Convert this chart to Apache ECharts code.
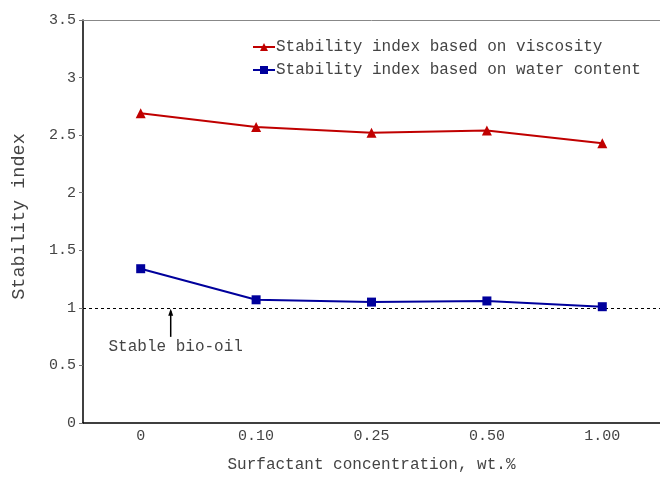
<!DOCTYPE html>
<html>
<head>
<meta charset="utf-8">
<script src="https://cdn.jsdelivr.net/npm/echarts@6/dist/echarts.min.js"></script>
<style>html,body{margin:0;padding:0;background:#fff;}#c{width:660px;height:478px;}</style>
</head>
<body>
<div id="c"></div>
<script>
var categories = ['0', '0.10', '0.25', '0.50', '1.00'];
var viscosityIndex = [2.69, 2.57, 2.52, 2.54, 2.43];
var waterIndex = [1.34, 1.07, 1.05, 1.06, 1.01];
var seriesNames = ['Stability index based on viscosity', 'Stability index based on water content'];
var stableLevel = 1;
var annotationText = 'Stable bio-oil';

var FONT = '"Liberation Mono", "Courier New", monospace';
var TXT = '#444';
var chart = echarts.init(document.getElementById('c'), null, {renderer: 'canvas', width: 660, height: 478});
var option = {
  animation: false,
  backgroundColor: '#fff',
  textStyle: {fontFamily: FONT},
  grid: {left: 83, width: 580, top: 20, height: 408},
  legend: {
    orient: 'vertical', left: 247, top: 34, itemGap: 7,
    itemWidth: 22, itemHeight: 10,
    textStyle: {fontFamily: FONT, fontSize: 16, color: TXT, padding: [0,0,0,-4]},
    data: seriesNames
  },
  xAxis: [{
    type: 'category', data: categories, position: 'bottom',
    boundaryGap: true,
    axisLine: {lineStyle: {color: '#000', width: 1.5}},
    axisTick: {alignWithLabel: true, length: 4, lineStyle: {color: '#555'}},
    axisLabel: {fontFamily: FONT, fontSize: 15, color: TXT, margin: 6},
    name: 'Surfactant concentration, wt.%', nameLocation: 'middle', nameGap: 34,
    nameTextStyle: {fontFamily: FONT, fontSize: 16, color: TXT},
    splitLine: {show: false}
  }, {
    type: 'category', data: categories, position: 'bottom',
    boundaryGap: true,
    axisLine: {show: false},
    axisTick: {alignWithLabel: true, inside: true, length: 3, lineStyle: {color: '#555'}},
    axisLabel: {show: false}, splitLine: {show: false}
  }, {
    type: 'category', data: categories, position: 'top',
    axisLine: {lineStyle: {color: '#888', width: 1}},
    axisTick: {show: false}, axisLabel: {show: false}, splitLine: {show: false}
  }],
  yAxis: {
    type: 'value', min: 0, max: 3.5, interval: 0.5,
    axisLine: {show: true, lineStyle: {color: '#000', width: 1.5}},
    axisTick: {show: true, length: 4, lineStyle: {color: '#777'}},
    axisLabel: {fontFamily: FONT, fontSize: 15, color: TXT, margin: 7},
    splitLine: {show: false},
    name: 'Stability index', nameLocation: 'middle', nameGap: 54,
    nameTextStyle: {fontFamily: FONT, fontSize: 18.5, color: TXT, padding: [0, 0, 0, 10]}
  },
  series: [{
    name: seriesNames[0], type: 'line', data: viscosityIndex,
    symbol: 'triangle', symbolSize: 10,
    itemStyle: {color: '#C00000'},
    lineStyle: {color: '#C00000', width: 2}
  }, {
    name: seriesNames[1], type: 'line', data: waterIndex,
    symbol: 'rect', symbolSize: 9,
    itemStyle: {color: '#00009C'},
    lineStyle: {color: '#00009C', width: 2},
    z: 3,
    markLine: {
      silent: true, symbol: 'none', z: 1,
      label: {show: false},
      lineStyle: {color: '#000', type: [3, 3], width: 1},
      data: [{yAxis: stableLevel}]
    }
  }]
};
chart.setOption(option);

var p0 = chart.convertToPixel({xAxisIndex: 0, yAxisIndex: 0}, [0, stableLevel]);
var p1 = chart.convertToPixel({xAxisIndex: 0, yAxisIndex: 0}, [1, stableLevel]);
var ax = p0[0] + (p1[0] - p0[0]) * 0.26;
var ay = p0[1];
chart.setOption({
  graphic: [{
    type: 'line', z: 10,
    shape: {x1: ax, y1: ay + 29, x2: ax, y2: ay + 3},
    style: {stroke: '#000', lineWidth: 1.5}
  }, {
    type: 'polygon', z: 10,
    shape: {points: [[ax, ay + 1], [ax - 2.5, ay + 8], [ax + 2.5, ay + 8]]},
    style: {fill: '#000'}
  }, {
    type: 'text', z: 10,
    x: ax + 5, y: ay + 39,
    style: {text: annotationText, font: '16px ' + FONT, fill: TXT, align: 'center', verticalAlign: 'middle'}
  }]
});
</script>
</body>
</html>
